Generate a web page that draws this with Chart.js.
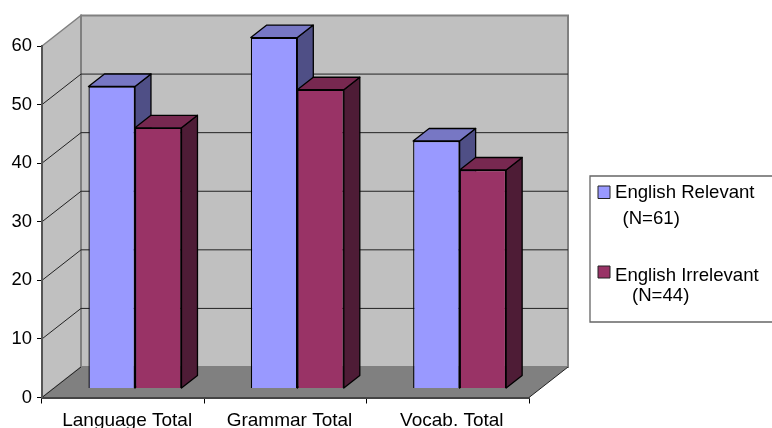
<!DOCTYPE html>
<html lang="en">
<head>
  <meta charset="UTF-8">
  <title>English Relevant vs Irrelevant Totals</title>
  <script src="https://cdn.jsdelivr.net/npm/chart.js"></script>
  <style>
    html, body { margin: 0; padding: 0; background: #fff; }
    canvas { display: block; }
  </style>
</head>
<body>
  <canvas id="scoreChart" width="772" height="428"></canvas>

  <script>
    const categories = ['Language Total', 'Grammar Total', 'Vocab. Total'];
    const englishRelevant = [51.55, 59.9, 42.25];
    const englishIrrelevant = [44.5, 51, 37.3];
    const seriesNames = ['English Relevant', 'English Irrelevant'];
    const seriesNotes = ['(N=61)', '(N=44)'];

    const FAMILY = '"Liberation Sans", Arial, sans-serif';

    // depth of the box and of the columns standing in it
    const wallDx = 39, wallDy = 30.5;
    const barDx = 16, barDy = 12.5;
    const shiftX = 11.8, shiftY = -9;

    const faces = [
      { front: '#9999FF', top: '#7777C4', side: '#4F4F86' },
      { front: '#993366', top: '#772850', side: '#4E1C36' }
    ];

    function poly(ctx, pts, fill, stroke, width) {
      ctx.beginPath();
      pts.forEach((p, i) => i ? ctx.lineTo(p[0], p[1]) : ctx.moveTo(p[0], p[1]));
      ctx.closePath();
      if (fill) { ctx.fillStyle = fill; ctx.fill(); }
      if (stroke) { ctx.strokeStyle = stroke; ctx.lineWidth = width || 1; ctx.stroke(); }
    }

    const boxPlugin = {
      id: 'box3d',
      // walls, floor and grid go under the axes
      beforeDraw(chart) {
        const { ctx, chartArea: a, scales: { y } } = chart;
        const edge = '#808080';
        ctx.save();
        poly(ctx, [[a.left, a.top], [a.left + wallDx, a.top - wallDy], [a.left + wallDx, a.bottom - wallDy], [a.left, a.bottom]], '#C0C0C0', edge, 1.5);
        poly(ctx, [[a.left + wallDx, a.top - wallDy], [a.right + wallDx, a.top - wallDy], [a.right + wallDx, a.bottom - wallDy], [a.left + wallDx, a.bottom - wallDy]], '#C0C0C0', edge, 2);
        poly(ctx, [[a.left, a.bottom], [a.left + wallDx, a.bottom - wallDy], [a.right + wallDx, a.bottom - wallDy], [a.right, a.bottom]], '#808080');

        ctx.strokeStyle = '#222';
        ctx.lineWidth = 1;
        y.ticks.forEach(t => {
          const py = y.getPixelForValue(t.value);
          if (t.value > 0 && t.value < 60) {
            ctx.beginPath();
            ctx.moveTo(a.left, py);
            ctx.lineTo(a.left + wallDx, py - wallDy);
            ctx.lineTo(a.right + wallDx, py - wallDy);
            ctx.stroke();
          }
        });
        // front edges of the floor
        ctx.beginPath();
        ctx.moveTo(a.left, a.bottom);
        ctx.lineTo(a.left + wallDx, a.bottom - wallDy);
        ctx.moveTo(a.right, a.bottom);
        ctx.lineTo(a.right + wallDx, a.bottom - wallDy);
        ctx.stroke();
        ctx.restore();
      },
      // column tops and sides, then the fronts are drawn shifted into the box
      beforeDatasetsDraw(chart) {
        const { ctx } = chart;
        ctx.save();
        ctx.translate(shiftX, shiftY);
        ctx.lineJoin = 'round';
        chart.data.datasets.forEach((ds, d) => {
          chart.getDatasetMeta(d).data.forEach(bar => {
            const l = bar.x - bar.width / 2, r = bar.x + bar.width / 2;
            poly(ctx, [[r, bar.y], [r + barDx, bar.y - barDy], [r + barDx, bar.base - barDy], [r, bar.base]], faces[d].side, '#000', 1.3);
            poly(ctx, [[l, bar.y], [l + barDx, bar.y - barDy], [r + barDx, bar.y - barDy], [r, bar.y]], faces[d].top, '#000', 1.3);
          });
        });
      },
      afterDatasetsDraw(chart) {
        chart.ctx.restore();
      },
      afterDraw(chart) {
        const { ctx } = chart;
        ctx.save();
        poly(ctx, [[590, 176], [773, 176], [773, 322], [590, 322]], '#fff', '#666', 1.3);
        ctx.font = '18.6px ' + FAMILY;
        ctx.fillStyle = '#000';
        ctx.textBaseline = 'alphabetic';
        ctx.textAlign = 'left';
        ctx.fillText(seriesNames[0], 615, 198);
        ctx.fillText(seriesNotes[0], 622.5, 224);
        ctx.fillText(seriesNames[1], 615, 281);
        ctx.fillText(seriesNotes[1], 632, 301);
        poly(ctx, [[598, 186], [610, 186], [610, 198.5], [598, 198.5]], faces[0].front, '#222', 1);
        poly(ctx, [[598, 266], [610, 266], [610, 278], [598, 278]], faces[1].front, '#222', 1);
        ctx.restore();
      }
    };

    new Chart(document.getElementById('scoreChart').getContext('2d'), {
      type: 'bar',
      data: {
        labels: categories,
        datasets: [
          { label: seriesNames[0], data: englishRelevant, backgroundColor: faces[0].front, borderColor: '#000', borderWidth: 1.3 },
          { label: seriesNames[1], data: englishIrrelevant, backgroundColor: faces[1].front, borderColor: '#000', borderWidth: 1.3 }
        ]
      },
      options: {
        responsive: false,
        animation: false,
        layout: { padding: { top: 46, right: 243, left: 0, bottom: 0 } },
        categoryPercentage: 0.573,
        barPercentage: 1,
        plugins: { legend: { display: false }, tooltip: { enabled: false } },
        scales: {
          x: {
            afterFit: s => { s.height = 30.5; },
            border: { color: '#444', width: 2 },
            grid: { drawOnChartArea: false, color: '#000', tickLength: 6 },
            ticks: { color: '#000', font: { family: FAMILY, size: 19 }, padding: 6, maxRotation: 0, labelOffset: 4 }
          },
          y: {
            min: 0,
            max: 60,
            afterFit: s => { s.width = 42; },
            border: { color: '#555', width: 2 },
            grid: { drawOnChartArea: false, color: '#000', tickLength: 5 },
            ticks: { stepSize: 10, color: '#000', font: { family: FAMILY, size: 18.4 }, padding: 5 }
          }
        }
      },
      plugins: [boxPlugin]
    });
  </script>
</body>
</html>
